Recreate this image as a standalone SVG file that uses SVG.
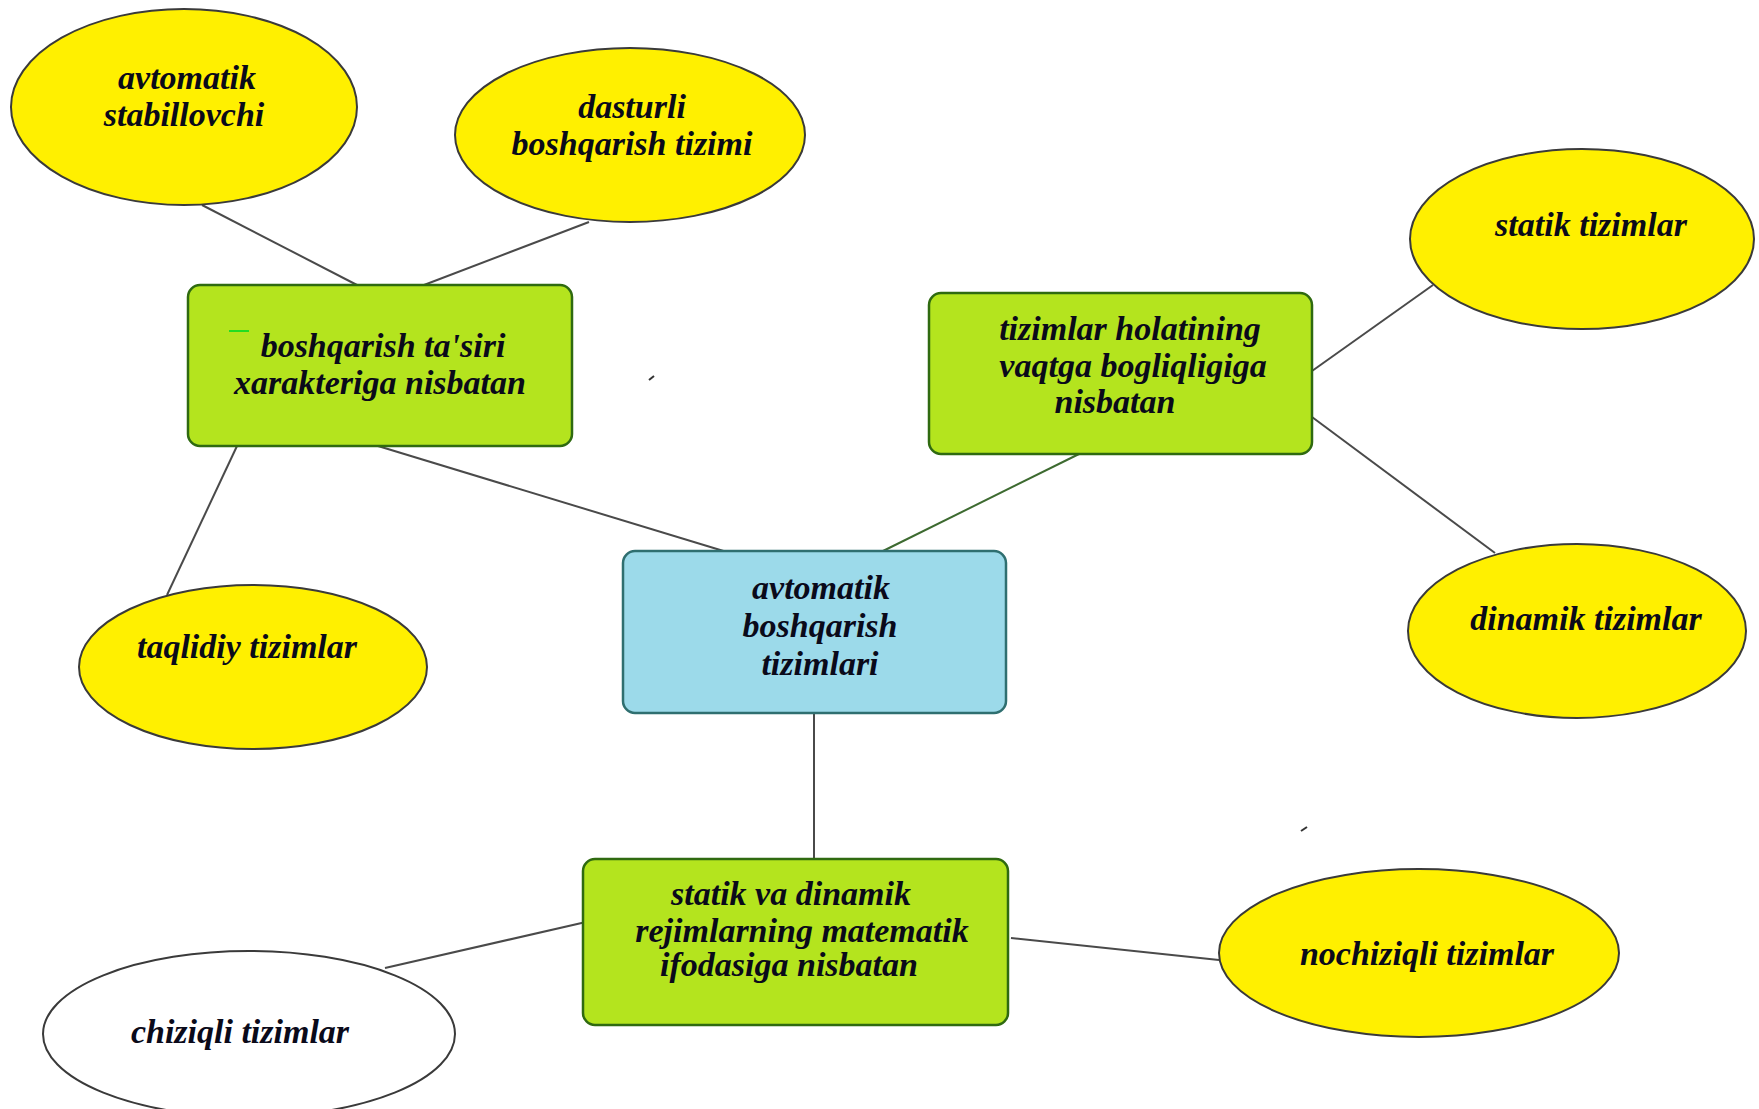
<svg xmlns="http://www.w3.org/2000/svg" width="1759" height="1109" viewBox="0 0 1759 1109">
<style>
.ell{fill:#fff000;stroke:#3a3a3a;stroke-width:2}
.ellw{fill:#ffffff;stroke:#3a3a3a;stroke-width:2}
.gr{fill:#b4e41e;stroke:#2f6a10;stroke-width:2.5}
.bl{fill:#9cdaea;stroke:#2f6f70;stroke-width:2.5}
.t{font-family:"Liberation Serif","Times New Roman",serif;font-weight:bold;font-style:italic;font-size:34px;fill:#0a0a1a;text-anchor:middle}
.c{stroke:#4a4a4a;stroke-width:2;fill:none}
</style>
<rect width="1759" height="1109" fill="#ffffff"/>
<g id="connectors">
<line class="c" x1="202" y1="205" x2="357" y2="285"/>
<line class="c" x1="589" y1="222" x2="424" y2="285"/>
<line class="c" x1="237" y1="446" x2="167" y2="595"/>
<line class="c" x1="378" y1="446" x2="740" y2="556"/>
<line class="c" x1="1079" y1="454" x2="883" y2="551" style="stroke:#3d6a30"/>
<line class="c" x1="1312" y1="371" x2="1433" y2="285"/>
<line class="c" x1="1312" y1="417" x2="1495" y2="553"/>
<line class="c" x1="814" y1="713" x2="814" y2="859"/>
<line class="c" x1="586" y1="922" x2="385" y2="968"/>
<line class="c" x1="1011" y1="938" x2="1219" y2="960"/>
</g>
<g id="n-stabillovchi">
<ellipse class="ell" cx="184" cy="107" rx="173" ry="98"/>
<text class="t" x="187" y="89">avtomatik</text>
<text class="t" x="184" y="126">stabillovchi</text>
</g>
<g id="n-dasturli">
<ellipse class="ell" cx="630" cy="135" rx="175" ry="87"/>
<text class="t" x="632" y="118">dasturli</text>
<text class="t" x="632" y="155">boshqarish tizimi</text>
</g>
<g id="n-tasiri">
<rect class="gr" x="188" y="285" width="384" height="161" rx="12"/>
<line x1="229" y1="331" x2="249" y2="331" stroke="#22dd22" stroke-width="2"/>
<text class="t" x="383" y="357">boshqarish ta'siri</text>
<text class="t" x="380" y="394">xarakteriga nisbatan</text>
</g>
<g id="n-holat">
<rect class="gr" x="929" y="293" width="383" height="161" rx="12"/>
<text class="t" x="1130" y="340">tizimlar holatining</text>
<text class="t" x="1133" y="377">vaqtga bogliqligiga</text>
<text class="t" x="1115" y="413">nisbatan</text>
</g>
<g id="n-statik">
<ellipse class="ell" cx="1582" cy="239" rx="172" ry="90"/>
<text class="t" x="1591" y="236">statik tizimlar</text>
</g>
<g id="n-dinamik">
<ellipse class="ell" cx="1577" cy="631" rx="169" ry="87"/>
<text class="t" x="1586" y="630">dinamik tizimlar</text>
</g>
<g id="n-taqlidiy">
<ellipse class="ell" cx="253" cy="667" rx="174" ry="82"/>
<text class="t" x="247" y="658">taqlidiy tizimlar</text>
</g>
<g id="n-center">
<rect class="bl" x="623" y="551" width="383" height="162" rx="12"/>
<text class="t" x="821" y="599">avtomatik</text>
<text class="t" x="820" y="637">boshqarish</text>
<text class="t" x="820" y="675">tizimlari</text>
</g>
<g id="n-rejim">
<rect class="gr" x="583" y="859" width="425" height="166" rx="12"/>
<text class="t" x="791" y="905">statik va dinamik</text>
<text class="t" x="802" y="942">rejimlarning matematik</text>
<text class="t" x="789" y="976">ifodasiga nisbatan</text>
</g>
<g id="n-chiziqli">
<ellipse class="ellw" cx="249" cy="1034" rx="206" ry="83"/>
<text class="t" x="240" y="1043">chiziqli tizimlar</text>
</g>
<g id="n-nochiziqli">
<ellipse class="ell" cx="1419" cy="953" rx="200" ry="84"/>
<text class="t" x="1427" y="965">nochiziqli tizimlar</text>
</g>
<g id="marks" stroke="#333" stroke-width="2">
<line x1="649" y1="380" x2="654" y2="376"/>
<line x1="1301" y1="831" x2="1307" y2="827"/>
</g>
</svg>
